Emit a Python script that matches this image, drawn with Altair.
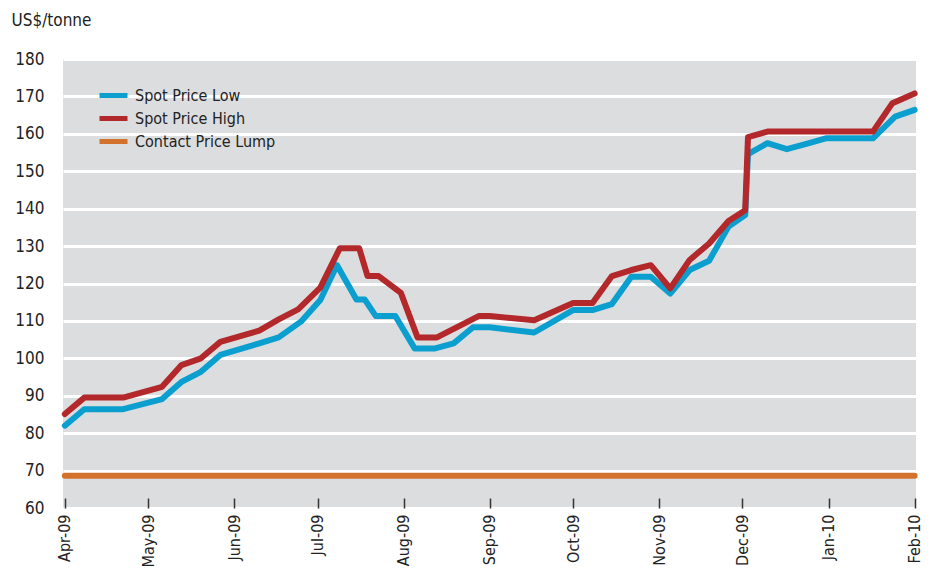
import altair as alt
import pandas as pd

FONT = "DejaVu Sans Condensed, Liberation Sans Narrow, sans-serif"

low_dates = ["2009-04-01", "2009-04-08", "2009-04-22", "2009-05-06", "2009-05-13", "2009-05-20",
             "2009-05-27", "2009-06-10", "2009-06-17", "2009-06-25", "2009-07-02", "2009-07-08",
             "2009-07-15", "2009-07-18", "2009-07-22", "2009-07-29", "2009-08-05", "2009-08-12",
             "2009-08-19", "2009-08-26", "2009-09-01", "2009-09-17", "2009-10-01", "2009-10-08",
             "2009-10-15", "2009-10-22", "2009-10-29", "2009-11-05", "2009-11-12", "2009-11-19",
             "2009-11-26", "2009-12-02", "2009-12-03", "2009-12-10", "2009-12-17", "2009-12-24",
             "2009-12-31", "2010-01-17", "2010-01-25", "2010-02-01"]
low_values = [82.0, 86.4, 86.4, 89.1, 93.7, 96.4,
              100.9, 104.0, 105.6, 109.8, 115.6, 124.9,
              115.7, 115.7, 111.3, 111.3, 102.6, 102.6,
              104.0, 108.3, 108.3, 106.9, 112.9, 112.9,
              114.5, 121.8, 121.8, 117.3, 123.6, 126.1,
              135.2, 138.3, 154.6, 157.5, 155.9, 157.3,
              158.8, 158.8, 164.6, 166.4]

high_dates = ["2009-04-01", "2009-04-08", "2009-04-22", "2009-05-06", "2009-05-13", "2009-05-20",
              "2009-05-27", "2009-06-10", "2009-06-17", "2009-06-24", "2009-07-02", "2009-07-09",
              "2009-07-16", "2009-07-19", "2009-07-23", "2009-07-31", "2009-08-06", "2009-08-13",
              "2009-08-28", "2009-09-01", "2009-09-17", "2009-10-01", "2009-10-08", "2009-10-15",
              "2009-10-22", "2009-10-29", "2009-11-05", "2009-11-12", "2009-11-19", "2009-11-26",
              "2009-12-02", "2009-12-03", "2009-12-10", "2010-01-17", "2010-01-24", "2010-02-01"]
high_values = [85.1, 89.5, 89.5, 92.4, 98.2, 100.0,
               104.4, 107.4, 110.4, 113.1, 118.9, 129.4,
               129.4, 122.0, 122.0, 117.5, 105.6, 105.6,
               111.3, 111.3, 110.2, 114.8, 114.8, 122.0,
               123.6, 124.9, 118.7, 126.3, 130.7, 136.7,
               139.6, 159.1, 160.6, 160.6, 168.2, 170.8]

lump_dates = ["2009-04-01", "2010-02-01"]
lump_values = [68.6, 68.6]

tick_months = ["2009-04-01", "2009-05-01", "2009-06-01", "2009-07-01", "2009-08-01", "2009-09-01",
               "2009-10-01", "2009-11-01", "2009-12-01", "2010-01-01", "2010-02-01"]

series_names = ["Spot Price Low", "Spot Price High", "Contact Price Lump"]
series_colors = ["#0b9fcf", "#b3282a", "#d3722d"]

df_low = pd.DataFrame({"date": pd.to_datetime(low_dates), "value": low_values, "series": series_names[0]})
df_high = pd.DataFrame({"date": pd.to_datetime(high_dates), "value": high_values, "series": series_names[1]})
df_lump = pd.DataFrame({"date": pd.to_datetime(lump_dates), "value": lump_values, "series": series_names[2]})

tick_vals = [alt.DateTime(year=int(d[:4]), month=int(d[5:7]), date=1) for d in tick_months]

x_scale = alt.Scale(domain=[alt.DateTime(year=2009, month=3, date=31, hours=8),
                            alt.DateTime(year=2010, month=2, date=1, hours=12)])
y_scale = alt.Scale(domain=[60, 180], nice=False, zero=False)
color_scale = alt.Scale(domain=series_names, range=series_colors)

x_enc = alt.X("date:T", scale=x_scale, title=None,
              axis=alt.Axis(values=tick_vals, format="%b-%y", labelAngle=270, labelAlign="right",
                            labelBaseline="middle", labelPadding=6, tickSize=10, offset=-10,
                            tickColor="#333333", tickWidth=1.5, domain=False, grid=False,
                            labelFont=FONT, labelFontSize=16, labelColor="#222222"))
y_enc = alt.Y("value:Q", scale=y_scale,
              axis=alt.Axis(values=list(range(60, 181, 10)), ticks=False, domain=False,
                            gridColor="white", gridWidth=3, labelPadding=19,
                            labelFont=FONT, labelFontSize=17, labelColor="#222222",
                            title="US$/tonne", titleAngle=0, titleAlign="left",
                            titleBaseline="alphabetic", titleX=-52, titleY=-34,
                            titleFont=FONT, titleFontSize=17, titleFontWeight="normal",
                            titleColor="#222222"))
color_enc = alt.Color("series:N", scale=color_scale, sort=series_names,
                      legend=alt.Legend(title=None, orient="none", legendX=38, legendY=24,
                                        symbolType="M-1.4,0H1.4", symbolStrokeWidth=5,
                                        symbolSize=400, symbolFillColor="transparent",
                                        labelFont=FONT, labelFontSize=16, labelColor="#222222",
                                        rowPadding=0, labelOffset=9))

def line(df):
    return alt.Chart(df).mark_line(strokeWidth=6, strokeCap="round", strokeJoin="round").encode(
        x=x_enc, y=y_enc, color=color_enc)

chart = alt.layer(line(df_lump), line(df_low), line(df_high)).properties(
    width=853, height=449,
    padding={"left": 55, "top": 51, "right": 11, "bottom": 59},
    autosize=alt.AutoSizeParams(type="none"),
    background="white",
).configure_view(fill="#dcdddf", stroke=None)

chart.save("out.html", embed_options={"renderer": "svg", "actions": False})
